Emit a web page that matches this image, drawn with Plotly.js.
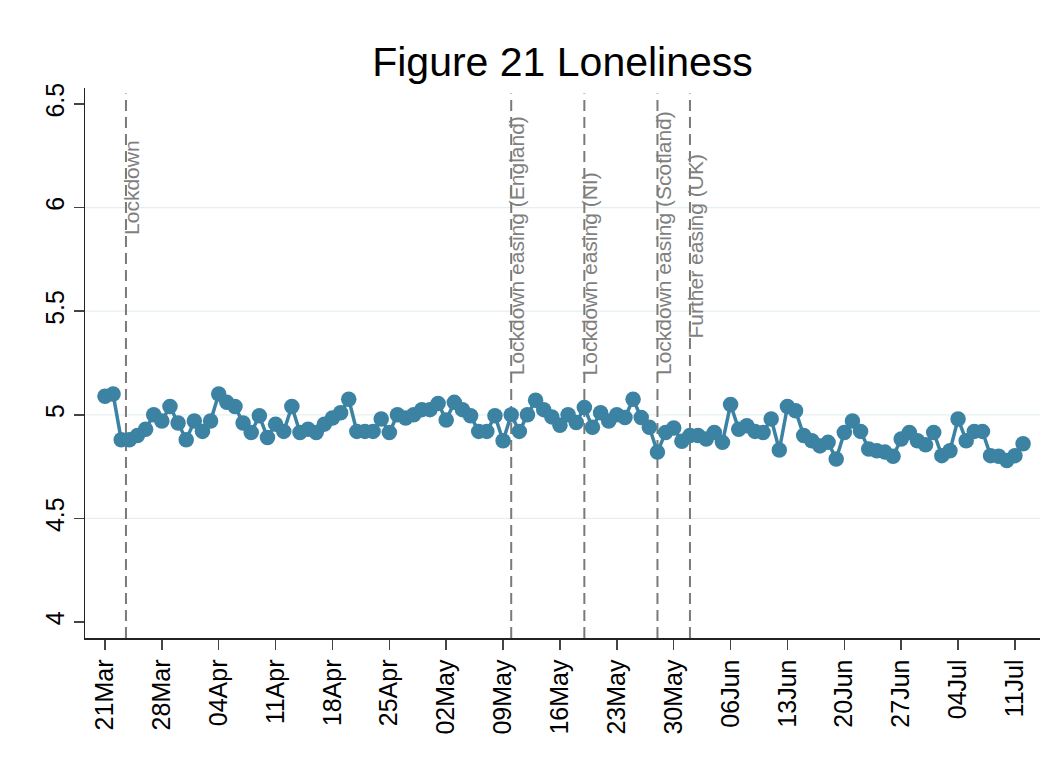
<!DOCTYPE html>
<html>
<head>
<meta charset="utf-8">
<script src="https://cdn.plot.ly/plotly-3.0.1.min.js"></script>
<style>html,body{margin:0;padding:0;background:#fff;}#chart{width:1051px;height:772px;}</style>
</head>
<body>
<div id="chart"></div>
<script>
// Daily loneliness score, starting 21 Mar 2020
const startDate = '2020-03-21';
const loneliness = [
  5.09, 5.10, 4.88, 4.88, 4.90, 4.93, 5.00, 4.97, 5.04, 4.96,
  4.88, 4.97, 4.92, 4.97, 5.10, 5.06, 5.04, 4.96, 4.915, 4.995,
  4.89, 4.955, 4.92, 5.04, 4.915, 4.93, 4.915, 4.955, 4.985, 5.01,
  5.075, 4.92, 4.92, 4.92, 4.98, 4.915, 5.00, 4.985, 5.00, 5.025,
  5.025, 5.055, 4.975, 5.06, 5.025, 4.995, 4.92, 4.92, 4.995, 4.875,
  5.00, 4.92, 5.00, 5.07, 5.025, 4.99, 4.95, 5.00, 4.963, 5.035,
  4.94, 5.01, 4.97, 5.00, 4.987, 5.075, 4.987, 4.94, 4.82, 4.915,
  4.936, 4.872, 4.90, 4.90, 4.883, 4.915, 4.867, 5.05, 4.93, 4.947,
  4.92, 4.915, 4.98, 4.83, 5.04, 5.02, 4.90, 4.875, 4.85, 4.867,
  4.787, 4.915, 4.97, 4.92, 4.835, 4.827, 4.82, 4.80, 4.883, 4.915,
  4.875, 4.855, 4.915, 4.803, 4.827, 4.98, 4.875, 4.92, 4.92, 4.803,
  4.80, 4.78, 4.803, 4.86
];
// Policy events (vertical reference lines)
const eventDates  = ['2020-03-23 14:00', '2020-05-10', '2020-05-19', '2020-05-28', '2020-06-01'];
const eventLabels = ['Lockdown', 'Lockdown easing (England)', 'Lockdown easing (NI)', 'Lockdown easing (Scotland)', 'Further easing (UK)'];
const eventLabelBottom = [5.858, 5.182, 5.182, 5.182, 5.361];
// Axis ticks
const yTicks = [4, 4.5, 5, 5.5, 6, 6.5];
const yTickText = ['4', '4.5', '5', '5.5', '6', '6.5'];
const yGrid = [4.5, 5, 5.5, 6];

const dates = loneliness.map((_, i) => {
  const d = new Date(startDate + 'T00:00:00Z');
  d.setUTCDate(d.getUTCDate() + i);
  return d.toISOString().slice(0, 10);
});

const FONT = 'Liberation Sans, Arial, sans-serif';
const lineColor = '#3b82a3';

const shapes = [];
yGrid.forEach(v => shapes.push({
  type: 'line', xref: 'paper', x0: 0, x1: 1, yref: 'y', y0: v, y1: v,
  line: {color: '#e6efef', width: 1.2}, layer: 'below'
}));
eventDates.forEach(d => shapes.push({
  type: 'line', xref: 'x', x0: d, x1: d, yref: 'paper', y0: 0, y1: 0.99,
  line: {color: '#7a7a7a', width: 2, dash: '11px,6px'}, layer: 'below'
}));

const annotations = eventDates.map((d, i) => ({
  x: d, y: eventLabelBottom[i], xref: 'x', yref: 'y',
  text: eventLabels[i], textangle: -90, showarrow: false,
  xanchor: 'left', yanchor: 'bottom', xshift: -8,
  font: {family: FONT, size: 21, color: '#7f7f7f'}
}));

const trace = {
  x: dates, y: loneliness, type: 'scatter', mode: 'lines+markers',
  line: {color: lineColor, width: 3.5},
  marker: {color: lineColor, size: 15.5},
  hoverinfo: 'x+y'
};

const layout = {
  width: 1051, height: 772,
  margin: {l: 85, r: 11, t: 88, b: 134},
  paper_bgcolor: '#ffffff', plot_bgcolor: '#ffffff',
  showlegend: false,
  title: {
    text: 'Figure 21 Loneliness',
    font: {family: FONT, size: 41, color: '#000'},
    x: 0.5, xref: 'paper', xanchor: 'center',
    y: 1 - 62 / 772, yref: 'container', yanchor: 'middle'
  },
  xaxis: {
    type: 'date',
    range: ['2020-03-18 13:00', '2020-07-14 02:00'],
    tick0: startDate, dtick: 7 * 86400000,
    tickformat: '%d%b', tickangle: -90,
    ticks: 'outside', ticklen: 10, tickwidth: 1.5, tickcolor: '#444',
    showline: true, linecolor: '#222', linewidth: 1.5,
    showgrid: false, zeroline: false,
    tickfont: {family: FONT, size: 25, color: '#000'}
  },
  yaxis: {
    range: [3.923, 6.577],
    tickvals: yTicks, ticktext: yTickText, tickangle: -90,
    ticks: 'outside', ticklen: 10, tickwidth: 1.5, tickcolor: '#444',
    showline: true, linecolor: '#222', linewidth: 1.5,
    showgrid: false, zeroline: false,
    tickfont: {family: FONT, size: 25, color: '#000'}
  },
  shapes: shapes,
  annotations: annotations
};

Plotly.newPlot('chart', [trace], layout, {displayModeBar: false, staticPlot: true});
</script>
</body>
</html>
